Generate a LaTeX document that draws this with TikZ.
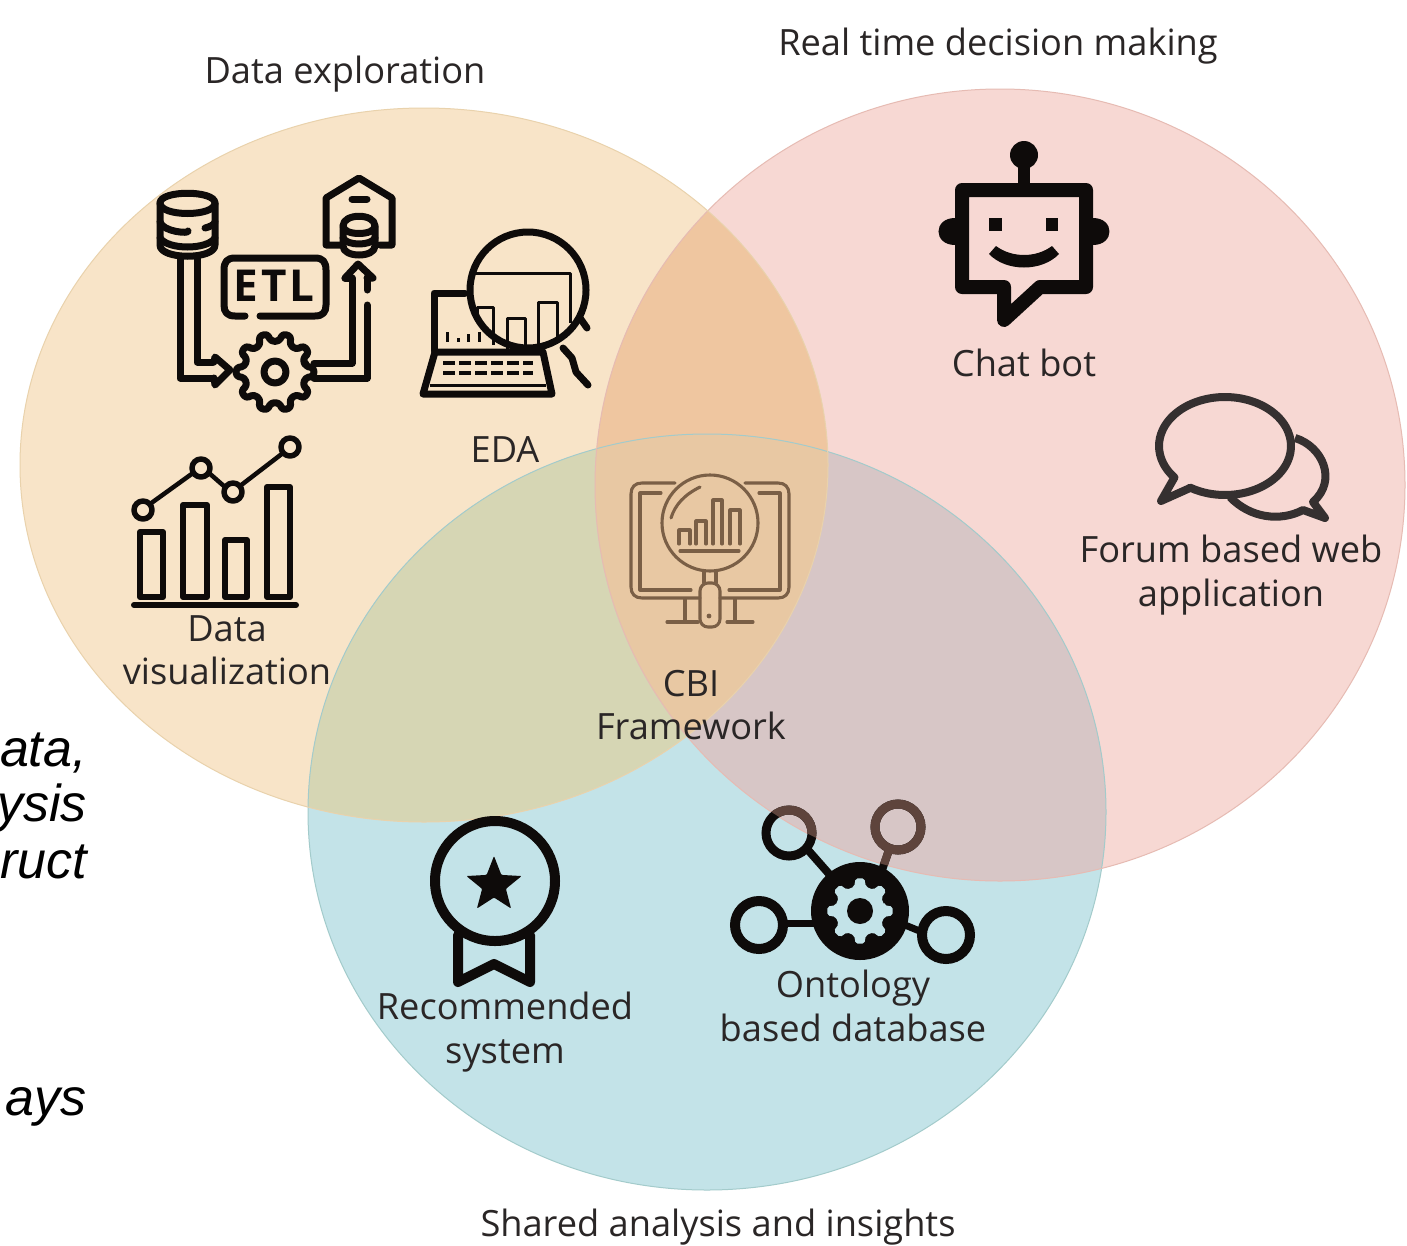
\documentclass[tikz,border=0pt]{standalone}
\usepackage{fontspec}
\setmainfont{Open Sans}
\newfontfamily\libfont{Liberation Sans}
\definecolor{cO}{HTML}{F8E4C8}
\definecolor{cP}{HTML}{F7D8D3}
\definecolor{cB}{HTML}{C3E3E8}
\definecolor{cOP}{HTML}{EFC6A0}
\definecolor{cOB}{HTML}{D6D6B4}
\definecolor{cPB}{HTML}{D7C6C6}
\definecolor{cOPB}{HTML}{E8C8A3}
\definecolor{eO}{HTML}{E9D2AC}
\definecolor{eP}{HTML}{E6BBB3}
\definecolor{eB}{HTML}{A3CBCB}
\definecolor{txt}{HTML}{2A2626}
\definecolor{ink}{HTML}{0E0B0A}
\definecolor{inkb}{HTML}{5E443C}
\definecolor{cbi}{HTML}{7A5F46}
\definecolor{bub}{HTML}{353030}
\newcommand\clipO{\clip (424,465) ellipse [x radius=404,y radius=357];}
\newcommand\clipP{\clip (1000,485) ellipse [x radius=405,y radius=396];}
% centre x, centre y, outer r, inner r, last tooth index, step angle
\newcommand\gearpath[6]{({#1+#4*cos(-.3*#6)},{#2+#4*sin(-.3*#6)})
  \foreach \i in {0,...,#5}{ -- ({#1+#4*cos((\i-.3)*#6)},{#2+#4*sin((\i-.3)*#6)}) -- ({#1+#3*cos((\i-.17)*#6)},{#2+#3*sin((\i-.17)*#6)}) -- ({#1+#3*cos((\i+.17)*#6)},{#2+#3*sin((\i+.17)*#6)}) -- ({#1+#4*cos((\i+.3)*#6)},{#2+#4*sin((\i+.3)*#6)})} -- cycle}
\tikzset{
  lab/.style={font=\fontsize{36.2}{43.5}\selectfont,text=txt,inner sep=0pt,align=center},
  side/.style={font=\libfont\itshape\fontsize{52}{52}\selectfont,text=black,inner sep=0pt,anchor=base east},
  icon/.style={draw=ink,line width=7pt,line join=round,line cap=round},
  thinicon/.style={draw=ink,line width=3pt,line join=round},
  robot/.style={draw=ink,line width=14pt,line join=round},
  cbiicon/.style={draw=cbi,line width=3.1pt,line cap=round,line join=round},
}
\begin{document}
\begin{tikzpicture}[x=1pt,y=-1pt]
\useasboundingbox (0,0) rectangle (1407,1245);
\fill[white] (0,0) rectangle (1407,1245);
% circles
\fill[cO] (424,465) ellipse [x radius=404,y radius=357];
\fill[cP] (1000,485) ellipse [x radius=405,y radius=396];
\fill[cB] (707,812) ellipse [x radius=399,y radius=378];
\begin{scope}\clipO \fill[cOP] (1000,485) ellipse [x radius=405,y radius=396];\end{scope}
\begin{scope}\clipO \fill[cOB] (707,812) ellipse [x radius=399,y radius=378];\end{scope}
\begin{scope}\clipP \fill[cPB] (707,812) ellipse [x radius=399,y radius=378];\end{scope}
\begin{scope}\clipO \clipP \fill[cOPB] (707,812) ellipse [x radius=399,y radius=378];\end{scope}
\draw[eB,line width=1pt] (707,812) ellipse [x radius=399,y radius=378];
\draw[eP,line width=1pt] (1000,485) ellipse [x radius=405,y radius=396];
\draw[eO,line width=1pt] (424,465) ellipse [x radius=404,y radius=357];

% ETL: source database
\draw[icon] (160,203) .. controls (160,190) and (215,190) .. (215,203) -- (215,245) .. controls (215,260) and (160,260) .. (160,245) -- cycle;
\draw[icon] (160,203) .. controls (160,217) and (215,217) .. (215,203);
\draw[icon] (160,222) .. controls (163,232) and (190,234) .. (188,231);
\draw[icon] (205,228) .. controls (210,227) and (215,224) .. (215,222);
\draw[icon] (160,238) .. controls (168,250) and (207,250) .. (215,238);
% pipes
\draw[icon] (180,258) -- (180,378) -- (213,378);
\draw[icon] (197,258) -- (197,362) -- (213,362);
\draw[icon] (214,362) -- (215,357) -- (230,370) -- (215,385) -- (214,378);
% ETL box
\draw[icon] (245,316) -- (235,316) .. controls (227,316) and (224,312) .. (224,305) -- (224,270) .. controls (224,262) and (227,258) .. (235,258) -- (315,258) .. controls (323,258) and (326,262) .. (326,270) -- (326,305) .. controls (326,312) and (323,316) .. (315,316) -- (260,316);
\node[font=\bfseries\fontsize{44}{44}\selectfont,text=ink,inner sep=0pt] (etl) at (274,286) {E\kern3pt T\kern3pt L};
% gear
\draw[icon,rounded corners=3pt] \gearpath{275}{372}{39}{31}{9}{36};
\draw[icon] (275,372) circle [radius=11];
% output pipes
\draw[icon] (314,363) -- (352,363) -- (352,278);
\draw[icon] (314,378) -- (367,378) -- (367,305);
\draw[icon] (367,278) -- (367,290);
\draw[icon] (345,278) -- (358,264) -- (373,278) -- (367,278);
\draw[icon] (345,278) -- (352,278);
% warehouse
\draw[icon] (340,245) -- (326,245) -- (326,198) -- (359,178) -- (392,198) -- (392,245) -- (380,245);
\draw[icon] (352,199) -- (367,199);
\draw[icon] (343,226) .. controls (343,213) and (375,213) .. (375,226) -- (375,246) .. controls (375,258) and (343,258) .. (343,246) -- cycle;
\draw[icon] (343,226) .. controls (343,236) and (375,236) .. (375,226);
\draw[icon] (343,238) .. controls (347,246) and (371,246) .. (375,238);

% EDA
\draw[icon] (434,351) -- (434,293) -- (465,293);
\draw[icon] (435,352) -- (543,352) -- (552,394) -- (423,394) -- cycle;
\draw[ink,line width=3pt] (430,385) -- (546,385);
\draw[ink,line width=4pt,dash pattern=on 12pt off 4pt] (443,363) -- (533,363);
\draw[ink,line width=4pt,dash pattern=on 12pt off 4pt] (443,373) -- (533,373);
\foreach \lx/\ly in {447/332,458/338,468/334,479/332}{\draw[ink,line width=3pt] (\lx,\ly) -- (\lx,342);}
\draw[thinicon] (472,273) -- (570,273) -- (570,323);
\draw[thinicon] (477,320) -- (477,307) -- (493,307) -- (493,345);
\draw[thinicon] (507,350) -- (507,318) -- (525,318) -- (525,350);
\draw[thinicon] (538,350) -- (538,302) -- (557,302) -- (557,343);
\draw[icon] (528,290) circle [radius=58];
\draw[icon] (563,348) -- (572,358) -- (576,372) -- (588,385);
\draw[icon] (580,318) -- (587,328);

% Data visualization
\draw[icon,line width=6pt] (140,597) rectangle (163,532);
\draw[icon,line width=6pt] (183,597) rectangle (207,505);
\draw[icon,line width=6pt] (225,597) rectangle (247,540);
\draw[icon,line width=6pt] (267,597) rectangle (290,487);
\draw[icon,line width=6pt] (134,605) -- (296,605);
\draw[icon,line width=5.5pt] (143,510) circle [radius=9];
\draw[icon,line width=5.5pt] (201,468) circle [radius=9];
\draw[icon,line width=5.5pt] (233,492) circle [radius=9];
\draw[icon,line width=5.5pt] (290,447) circle [radius=9];
\draw[icon,line width=4.5pt] (150,504) -- (193,473);
\draw[icon,line width=4.5pt] (209,473) -- (225,487);
\draw[icon,line width=4.5pt] (240,486) -- (283,453);

% Robot
\fill[ink] (1024,155) circle [radius=14];
\draw[ink,line width=12pt] (1024,160) -- (1024,190);
\fill[ink] (955,218) .. controls (933,218) and (933,245) .. (955,245) -- cycle;
\fill[ink] (1093,218) .. controls (1115,218) and (1115,245) .. (1093,245) -- cycle;
\draw[robot] (962,190) -- (1086,190) -- (1086,287) -- (1040,287) -- (1004,320) -- (1004,287) -- (962,287) -- cycle;
\fill[ink] (989,218) rectangle (1002,231);
\fill[ink] (1046,218) rectangle (1058,231);
\fill[ink] (989,254) -- (996,246) .. controls (1012,258) and (1036,258) .. (1052,246) -- (1059,254) .. controls (1042,272) and (1006,272) .. (989,254) -- cycle;

% Speech bubbles
\draw[bub,line width=8pt,line join=round] (1190,488) -- plot[domain=122:-220,samples=70,smooth] ({1225+66*cos(\x)},{446+49*sin(\x)}) -- (1161,501) -- cycle;
\draw[bub,line width=8pt,line join=round] (1295,438) .. controls (1322,446) and (1338,480) .. (1313,502) -- (1325,518) -- (1303,510) .. controls (1280,522) and (1250,518) .. (1230,497);

% CBI icon
\draw[cbiicon] (675,483) -- (642,483) .. controls (635,483) and (631,487) .. (631,494) -- (631,587) .. controls (631,594) and (635,598) .. (642,598) -- (700,598);
\draw[cbiicon] (745,483) -- (778,483) .. controls (785,483) and (789,487) .. (789,494) -- (789,587) .. controls (789,594) and (785,598) .. (778,598) -- (720,598);
\draw[cbiicon] (661,493) -- (640,493) -- (640,590) -- (691,590);
\draw[cbiicon] (759,493) -- (780,493) -- (780,590) -- (729,590);
\draw[cbiicon] (710,523) circle [radius=48];
\draw[cbiicon] (671,518) .. controls (675,505) and (684,495) .. (700,487);
\draw[cbiicon] (679,544) -- (679,530) -- (690,530) -- (690,544);
\draw[cbiicon] (696,544) -- (696,521) -- (706,521) -- (706,544);
\draw[cbiicon] (713,544) -- (713,500) -- (722,500) -- (722,544);
\draw[cbiicon] (730,544) -- (730,510) -- (740,510) -- (740,544);
\draw[cbiicon] (680,551) -- (739,551);
\draw[cbiicon] (704,571) -- (704,583);
\draw[cbiicon] (716,571) -- (716,583);
\draw[cbiicon,rounded corners=8pt] (700,583) rectangle (720,627);
\fill[cbi] (709,616) circle [radius=2.4];
\draw[cbiicon] (685,599) -- (685,622);
\draw[cbiicon] (735,599) -- (735,622);
\draw[cbiicon] (667,622) -- (698,622);
\draw[cbiicon] (727,622) -- (753,622);

% Medal
\draw[icon,line width=10pt] (458,935) -- (458,982) -- (494,964) -- (530,982) -- (530,935);
\draw[icon,line width=10pt] (495,881) circle [radius=60];
\fill[ink,rounded corners=1pt] (494,856)
  \foreach \sa/\sr in {-54/12.5,-18/29,18/12.5,54/29,90/12.5,126/29,162/12.5,198/29,234/12.5}{ -- ([shift={(494,885)}]\sa:\sr)} -- cycle;

% Ontology
\draw[ink,line width=9pt] (789,833) circle [radius=23];
\draw[ink,line width=9pt] (898,827) circle [radius=23];
\draw[ink,line width=8pt] (808,850) -- (830,875);
\draw[ink,line width=8pt] (889,850) -- (882,870);
\begin{scope}
\clipP
\draw[inkb,line width=9pt] (789,833) circle [radius=23];
\draw[inkb,line width=9pt] (898,827) circle [radius=23];
\draw[inkb,line width=8pt] (889,850) -- (882,870);
\end{scope}
\draw[ink,line width=10pt] (759,925) circle [radius=24];
\draw[ink,line width=10pt] (946,935) circle [radius=24];
\draw[ink,line width=7pt] (784,923) -- (815,923);
\draw[ink,line width=7pt] (905,925) -- (922,932);
\fill[ink] (860,911) circle [radius=49];
\fill[cB,rounded corners=2pt] \gearpath{860}{911}{33}{25}{7}{45};
\fill[ink] (860,911) circle [radius=13];

% labels
\node[lab] (l1) at (345,74) {Data exploration};
\node[lab] (l2) at (998,46) {Real time decision making};
\node[lab] (l3) at (1024,363) {Chat bot};
\node[lab] (l4) at (505,450) {EDA};
\node[lab] (l5) at (227,650) {Data\\visualization};
\node[lab] (l6) at (1231,575) {Forum based web\\application};
\node[lab] (l7) at (691,705) {CBI\\Framework};
\node[lab] (l8) at (505,1032) {Recommended\\system};
\node[lab] (l9) at (853,1006) {Ontology\\based database};
\node[lab] (l10) at (718,1227) {Shared analysis and insights};

% clipped side text
\node[side] (s1) at (87,766) {ata,};
\node[side] (s2) at (87,821) {ysis};
\node[side] (s3) at (87,878) {ruct};
\node[side] (s4) at (87,1115) {ays};
\end{tikzpicture}
\end{document}
